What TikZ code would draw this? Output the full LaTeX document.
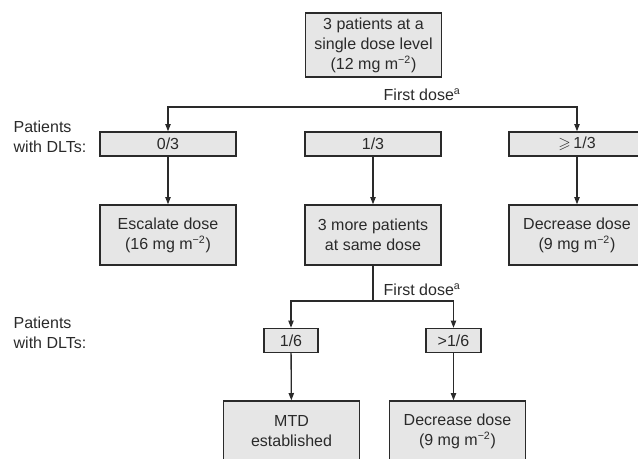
\documentclass[tikz,border=0pt]{standalone}
\usepackage{amsmath}
\usepackage{amssymb}
\usepackage{fontspec}
\setmainfont{Liberation Sans}
\usetikzlibrary{arrows.meta,positioning}
\definecolor{boxfill}{HTML}{E6E6E6}
\definecolor{ink}{HTML}{2A2A2A}

\begin{document}
\begin{tikzpicture}[->, >={Triangle[length=5.5pt,width=4pt]}, x=0.75pt, y=-0.75pt, line width=1pt, draw=ink, text=ink, font=\fontsize{12}{15}\selectfont]
\tikzstyle{box}=[draw=ink, fill=boxfill, line width=1pt, inner sep=0pt, align=center, minimum width=102pt]
\tikzstyle{count}=[box, minimum height=18pt]
\tikzstyle{action}=[box, minimum height=45pt]
\tikzstyle{dlt}=[align=left, anchor=west, inner sep=0pt]
\useasboundingbox (0,0) rectangle (638,458);
\clip (0,0) rectangle (638,458);
\node[action, minimum height=48pt] (start) at (373.5,45) {3 patients at a\\single dose level\\(12 mg m\textsuperscript{−2})};
\node[count]    (none) at (168,144)   {0/3};
\node[count]    (one)  at (373,144)   {1/3};
\node[count]    (many) at (577,144)   {$\geqslant$\,1/3};
\node[action]   (escalate) at (168,235) {Escalate dose\\(16 mg m\textsuperscript{−2})};
\node[action]   (more)     at (373,235) {3 more patients\\at same dose};
\node[action]   (decrease) at (577,235) {Decrease dose\\(9 mg m\textsuperscript{−2})};
\node[count, minimum width=40.5pt] (sixone)  at (291,340.5)   {1/6};
\node[count, minimum width=41.25pt] (sixmore) at (453.5,340.5) {>1/6};
\node[action]   (mtd)       at (291.5,431) {MTD\\established};
\node[action]   (decrease2) at (457.5,431) {Decrease dose\\(9 mg m\textsuperscript{−2})};
\node[dlt] (dltone) at (13,137) {Patients\\with DLTs:};
\node[dlt] (dlttwo) at (13,333) {Patients\\with DLTs:};
\coordinate (splitone) at (373,107);
\coordinate (splittwo) at (373,301);
\node[anchor=west, inner sep=0pt] (doseone) at (383,95)  {First dose\textsuperscript{a}};
\node[anchor=west, inner sep=0pt] (dosetwo) at (383,290) {First dose\textsuperscript{a}};
\draw (splitone) -| (none);
\draw (splitone) -| (many);
\path
(none) edge (escalate)
(one)  edge (more)
(many) edge (decrease);
\draw[-] (more) -- (splittwo);
\draw (splittwo) -| (sixone);
\draw (splittwo) -| (sixmore);
\path (sixone) edge (mtd);
\draw (sixmore) -- (sixmore |- decrease2.north);
\end{tikzpicture}
\end{document}
